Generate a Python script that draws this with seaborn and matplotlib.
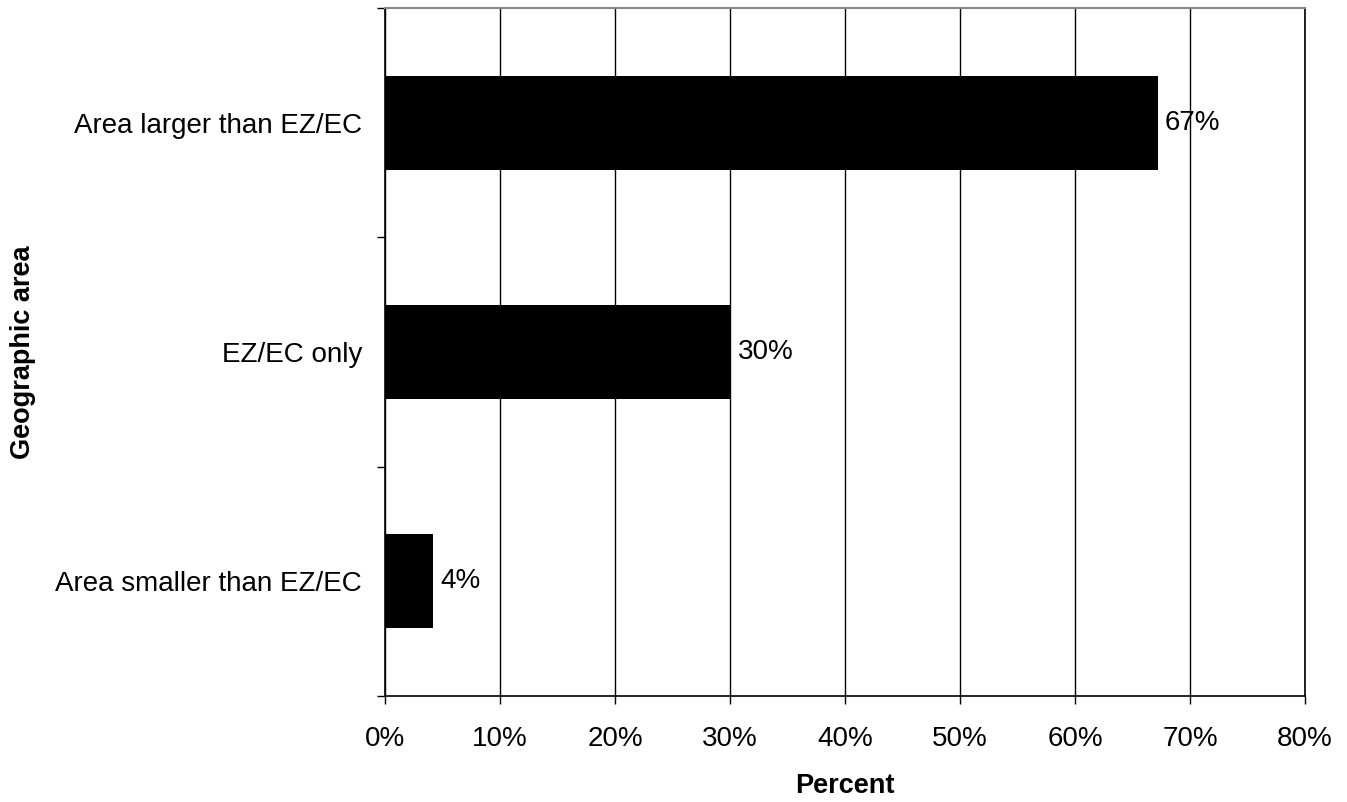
import matplotlib
matplotlib.use('Agg')
import matplotlib.pyplot as plt
import pandas as pd
import seaborn as sns

# data
categories = ["Area larger than EZ/EC", "EZ/EC only", "Area smaller than EZ/EC"]
percent = [67.2, 30.1, 4.2]
bar_labels = ["67%", "30%", "4%"]
x_ticks = [0, 10, 20, 30, 40, 50, 60, 70, 80]
x_tick_labels = ["0%", "10%", "20%", "30%", "40%", "50%", "60%", "70%", "80%"]

df = pd.DataFrame({"area": categories, "percent": percent})

sns.set_style("white")
plt.rcParams['font.family'] = ['Liberation Sans', 'DejaVu Sans']
plt.rcParams['text.color'] = 'black'
plt.rcParams['axes.labelcolor'] = 'black'
plt.rcParams['xtick.color'] = 'black'
plt.rcParams['ytick.color'] = 'black'

fig = plt.figure(figsize=(13.47, 8.02), dpi=100)
ax = fig.add_axes([385 / 1347, 106 / 802, 920 / 1347, 688 / 802])

sns.barplot(data=df, x="percent", y="area", orient="h", color="black",
            width=0.41, saturation=1, linewidth=0, ax=ax, zorder=3)

ax.bar_label(ax.containers[0], labels=bar_labels, padding=5, fontsize=20, color="black")

ax.set_xlim(0, 80)
ax.set_ylim(2.5, -0.5)
ax.set_xticks(x_ticks)
ax.set_xticklabels(x_tick_labels, fontsize=20)

# ticks on the category boundaries, labels in the middle
ax.set_yticks([-0.5, 0.5, 1.5, 2.5])
ax.set_yticklabels([])
ax.set_yticks([0, 1, 2], minor=True)
ax.set_yticklabels(categories, minor=True, fontsize=20)
ax.tick_params(axis="y", which="minor", length=0, pad=16.5)
ax.tick_params(axis="y", which="major", length=5.8, width=1, direction="out", color="black", left=True)
ax.tick_params(axis="x", length=5.8, width=1, direction="out", color="black", pad=15.5, bottom=True)

ax.grid(axis="x", color="black", linewidth=1, zorder=0)
ax.set_axisbelow(True)

for side in ["left", "bottom", "right"]:
    ax.spines[side].set_color("black")
    ax.spines[side].set_linewidth(1.2)
ax.spines["top"].set_color("#888888")
ax.spines["top"].set_linewidth(1.5)

ax.set_xlabel("Percent", fontsize=19.5, fontweight="bold", labelpad=15.5)
ax.set_ylabel("Geographic area", fontsize=19.5, fontweight="bold")
ax.yaxis.set_label_coords(-349 / 920, 0.5)

fig.savefig("out.png", dpi=100)
